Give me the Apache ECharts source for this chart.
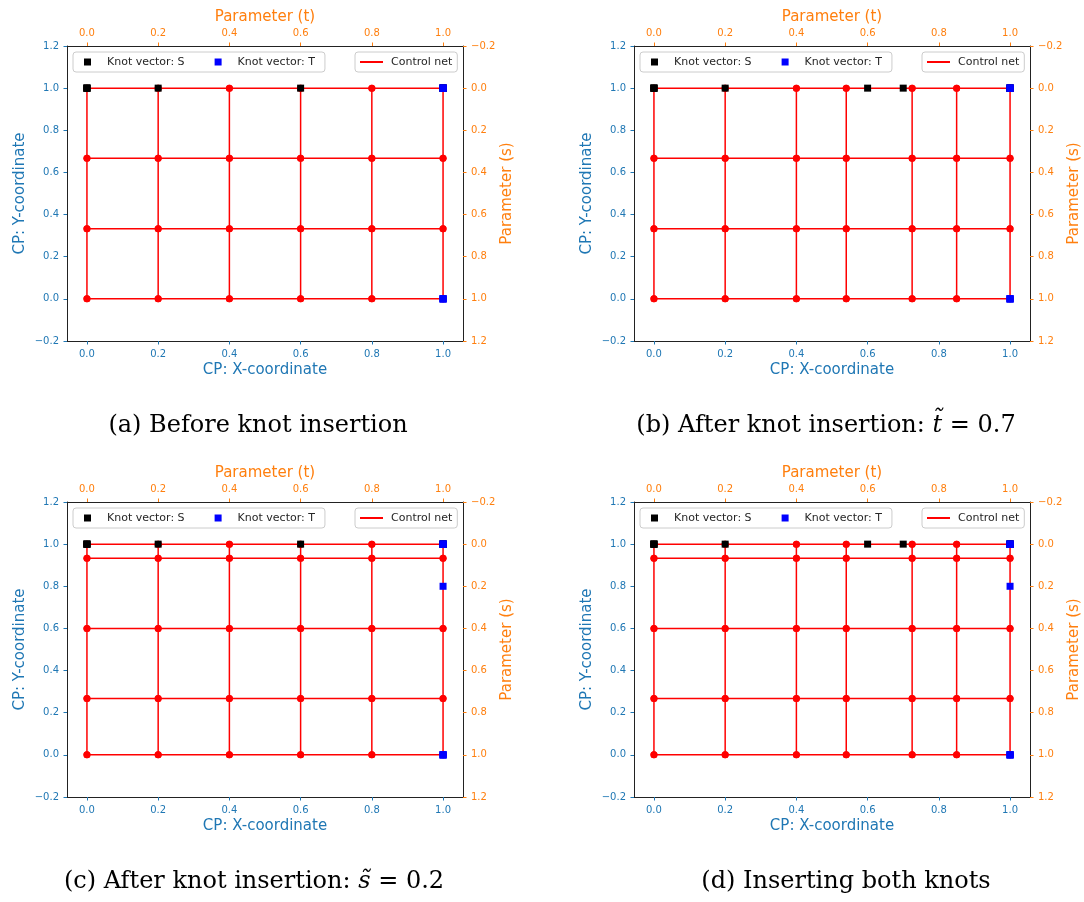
<!DOCTYPE html>
<html lang="en">
<head>
<meta charset="UTF-8">
<title>Knot insertion</title>
<script src="https://cdn.jsdelivr.net/npm/echarts@6/dist/echarts.min.js"></script>
</head>
<body style="margin:0;background:#fff">
<div id="main" style="width:1084px;height:902px"></div>
<script>
// control point coordinates
const xBefore = [0, 0.2, 0.4, 0.6, 0.8, 1.0];
const xAfter = [0, 0.2, 0.4, 0.54, 0.725, 0.85, 1.0];
const yBefore = [0, 0.333, 0.667, 1.0];
const yAfter = [0, 0.267, 0.6, 0.933, 1.0];

// knot vectors (S along t, T along s)
const knotsSBefore = [0, 0, 0, 0, 0.2, 0.6, 1, 1, 1, 1];
const knotsSAfter = [0, 0, 0, 0, 0.2, 0.6, 0.7, 1, 1, 1, 1];
const knotsTBefore = [0, 0, 0, 0, 1, 1, 1, 1];
const knotsTAfter = [0, 0, 0, 0, 0.2, 1, 1, 1, 1];

// tick values
const xTicks = [0, 0.2, 0.4, 0.6, 0.8, 1.0];
const yTicks = [-0.2, 0, 0.2, 0.4, 0.6, 0.8, 1.0, 1.2];

const captionA = '(a) Before knot insertion';
const captionB = '(b) After knot insertion: {i|t\u0303} = 0.7';
const captionC = '(c) After knot insertion: {i|s\u0303} = 0.2';
const captionD = '(d) Inserting both knots';

const BLUE = '#1f77b4';
const ORANGE = '#ff7f0e';
const W = 396, H = 295;

const panels = [
    {xs: xBefore, ys: yBefore, ks: knotsSBefore, kt: knotsTBefore, left: 67, top: 46, caption: captionA, cx: 258, cy: 426},
    {xs: xAfter, ys: yBefore, ks: knotsSAfter, kt: knotsTBefore, left: 634, top: 46, caption: captionB, cx: 826, cy: 426},
    {xs: xBefore, ys: yAfter, ks: knotsSBefore, kt: knotsTAfter, left: 67, top: 502, caption: captionC, cx: 254, cy: 882},
    {xs: xAfter, ys: yAfter, ks: knotsSAfter, kt: knotsTAfter, left: 634, top: 502, caption: captionD, cx: 846, cy: 882}
];

const fmt = v => (v < -1e-9 ? '\u2212' : '') + Math.abs(v).toFixed(1);

function axisCommon(color, ticks) {
    return {
        axisLine: {onZero: false, lineStyle: {color: '#222', width: 1}},
        axisTick: {show: true, length: 3.5, customValues: ticks, lineStyle: {color: color}},
        axisLabel: {customValues: ticks, color: color, fontSize: 10, margin: 8, formatter: fmt},
        splitLine: {show: false},
        nameLocation: 'middle',
        nameTextStyle: {color: color, fontSize: 15}
    };
}

const grid = [], xAxis = [], yAxis = [], series = [], legend = [], graphic = [];

panels.forEach((p, i) => {
    grid.push({left: p.left, top: p.top, width: W, height: H, outerBoundsMode: 'none'});

    xAxis.push(Object.assign(axisCommon(BLUE, xTicks), {
        type: 'value', gridIndex: i, position: 'bottom', min: -0.056, max: 1.056,
        name: 'CP: X-coordinate', nameGap: 22
    }));
    xAxis.push(Object.assign(axisCommon(ORANGE, xTicks), {
        type: 'value', gridIndex: i, position: 'top', min: -0.056, max: 1.056,
        name: 'Parameter (t)', nameGap: 21
    }));
    yAxis.push(Object.assign(axisCommon(BLUE, yTicks), {
        type: 'value', gridIndex: i, position: 'left', min: -0.2, max: 1.2,
        name: 'CP: Y-coordinate', nameGap: 39, nameRotate: 90
    }));
    yAxis.push(Object.assign(axisCommon(ORANGE, yTicks), {
        type: 'value', gridIndex: i, position: 'right', min: -0.2, max: 1.2, inverse: true,
        name: 'Parameter (s)', nameGap: 37, nameRotate: 90
    }));

    const lineBase = {
        type: 'line', name: 'Control net', xAxisIndex: 2 * i, yAxisIndex: 2 * i,
        symbol: 'circle', symbolSize: 7, showAllSymbol: true, z: 2,
        lineStyle: {color: '#ff0000', width: 1.5},
        itemStyle: {color: '#ff0000'},
        animation: false
    };
    // rows of the control net
    p.ys.forEach(y => {
        series.push(Object.assign({}, lineBase, {data: p.xs.map(x => [x, y])}));
    });
    // columns of the control net
    p.xs.forEach(x => {
        series.push(Object.assign({}, lineBase, {data: p.ys.map(y => [x, y])}));
    });

    series.push({
        type: 'scatter', name: 'Knot vector: S', xAxisIndex: 2 * i + 1, yAxisIndex: 2 * i + 1,
        symbol: 'rect', symbolSize: 7, z: 3, itemStyle: {color: '#000000', opacity: 1},
        data: p.ks.map(k => [k, 0]), animation: false
    });
    series.push({
        type: 'scatter', name: 'Knot vector: T', xAxisIndex: 2 * i + 1, yAxisIndex: 2 * i + 1,
        symbol: 'rect', symbolSize: 7, z: 4, itemStyle: {color: '#0000ff', opacity: 1},
        data: p.kt.map(s => [1, s]), animation: false
    });

    const boxStyle = {
        backgroundColor: 'rgba(255,255,255,0.8)', borderColor: '#cccccc', borderWidth: 1, borderRadius: 3
    };
    legend.push(Object.assign({
        left: p.left + 6, top: p.top + 6, orient: 'horizontal',
        data: ['Knot vector: S', 'Knot vector: T'], icon: 'rect',
        itemWidth: 7, itemHeight: 7, itemGap: 30,
        padding: [4, 10, 4, 11],
        textStyle: {fontSize: 11, color: '#262626', lineHeight: 12, padding: [0, 0, 0, 11]}
    }, boxStyle));
    legend.push(Object.assign({
        left: p.left + 288, top: p.top + 6,
        data: ['Control net'], icon: 'rect',
        itemWidth: 23, itemHeight: 2,
        padding: [4, 5, 4, 5],
        textStyle: {fontSize: 11, color: '#262626', lineHeight: 12, padding: [0, 0, 0, 3]}
    }, boxStyle));

    graphic.push({
        type: 'text', x: p.cx, y: p.cy,
        style: {
            text: p.caption, fill: '#000', fontSize: 24, fontFamily: 'DejaVu Serif',
            align: 'center', verticalAlign: 'middle',
            rich: {i: {fontStyle: 'italic', fontSize: 24, fontFamily: 'DejaVu Serif'}}
        }
    });
});

const chart = echarts.init(document.getElementById('main'));
chart.setOption({
    backgroundColor: '#ffffff',
    animation: false,
    textStyle: {fontFamily: 'DejaVu Sans'},
    grid: grid,
    xAxis: xAxis,
    yAxis: yAxis,
    legend: legend,
    series: series,
    graphic: graphic
});
</script>
</body>
</html>
